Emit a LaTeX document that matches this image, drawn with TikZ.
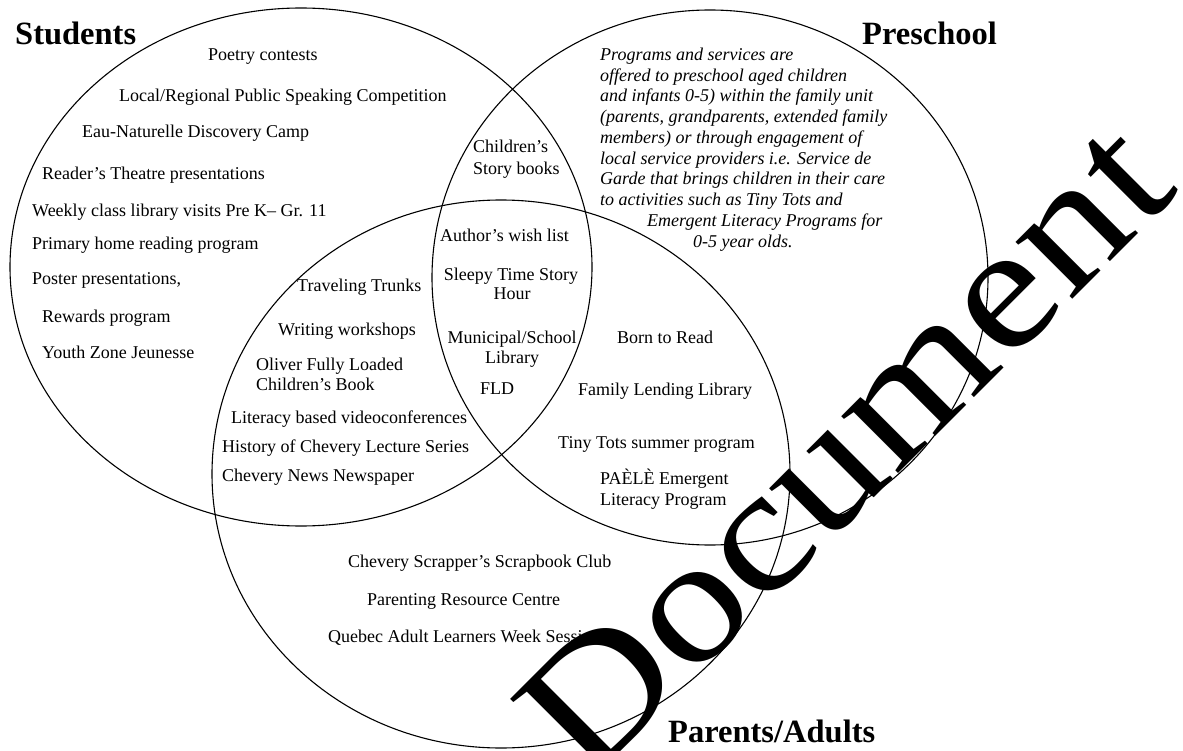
\documentclass[tikz,border=0pt]{standalone}
\usepackage{fontspec}
\setmainfont{Liberation Serif}
\begin{document}
\begin{tikzpicture}[x=1pt,y=-1pt,
  txt/.style={inner sep=0, anchor=base west, font=\fontsize{18}{20.8}\selectfont},
  ctxt/.style={inner sep=0, anchor=base, font=\fontsize{18}{20.8}\selectfont},
  itxt/.style={inner sep=0, anchor=base west, font=\fontsize{18}{20.8}\selectfont\itshape},
  ttl/.style={inner sep=0, anchor=base west, font=\fontsize{32.5}{36}\selectfont\bfseries},
  ring/.style={draw=black, line width=1.1pt},
  wmark/.style={inner sep=0, anchor=base, rotate=45, xscale=1.151, font=\fontsize{175}{175}\selectfont}]
\useasboundingbox (0,0) rectangle (1183,751);
% circles
\draw[ring] (301,267) ellipse [x radius=291, y radius=259];
\draw[ring] (710,277.5) ellipse [x radius=278, y radius=267.5];
\draw[ring] (501,474) ellipse [x radius=289, y radius=274];
% titles
\node[ttl] (tS) at (15,45) {Students};
\node[ttl] (tP) at (862,45) {Preschool};
\node[ttl] (tA) at (668,742) {Parents/Adults};
% students only
\node[txt] (s1) at (208,61) {Poetry contests};
\node[txt] (s2) at (119,102) {Local/Regional Public Speaking Competition};
\node[txt] (s3) at (82,138) {Eau-Naturelle Discovery Camp};
\node[txt] (s4) at (42,180) {Reader’s Theatre presentations};
\node[txt] (s5) at (32,217) {Weekly class library visits Pre K– Gr. 11};
\node[txt] (s6) at (32,250) {Primary home reading program};
\node[txt] (s7) at (32,285) {Poster presentations,};
\node[txt] (s8) at (42,322) {Rewards program};
\node[txt] (s9) at (42,358) {Youth Zone Jeunesse};
% students and parents
\node[txt] (sp1) at (297,292) {Traveling Trunks};
\node[txt] (sp2) at (278,335) {Writing workshops};
\node[txt] (sp3a) at (256,370) {Oliver Fully Loaded};
\node[txt] (sp3b) at (256,390) {Children’s Book};
\node[txt] (sp4) at (231,423) {Literacy based videoconferences};
\node[txt] (sp5) at (222,452) {History of Chevery Lecture Series};
\node[txt] (sp6) at (222,481) {Chevery News Newspaper};
% students and preschool
\node[txt] (ss1a) at (473,153) {Children’s};
\node[txt] (ss1b) at (473,175) {Story books};
% all three
\node[txt] (t1) at (440,242) {Author’s wish list};
\node[ctxt] (t2a) at (511,280) {Sleepy Time Story};
\node[ctxt] (t2b) at (512,299) {Hour};
\node[ctxt] (t3a) at (512,343) {Municipal/School};
\node[ctxt] (t3b) at (512,363) {Library};
\node[ctxt] (t4) at (497,394) {FLD};
% preschool and parents
\node[txt] (pp1) at (617,343) {Born to Read};
\node[txt] (pp2) at (578,395) {Family Lending Library};
\node[txt] (pp3) at (558,448) {Tiny Tots summer program};
\node[txt] (pp4a) at (600,484) {PAÈLÈ Emergent};
\node[txt] (pp4b) at (600,505) {Literacy Program};
% parents only
\node[txt] (p1) at (348,567) {Chevery Scrapper’s Scrapbook Club};
\node[txt] (p2) at (367,605) {Parenting Resource Centre};
\node[txt] (p3) at (328,642) {Quebec Adult Learners Week Sessions};
% preschool paragraph
\node[itxt] (q1) at (600,61) {Programs and services are};
\node[itxt] (q2) at (600,82) {offered to preschool aged children};
\node[itxt] (q3) at (600,102) {and infants 0-5) within the family unit};
\node[itxt] (q4) at (600,123) {(parents, grandparents, extended family};
\node[itxt] (q5) at (600,144) {members) or through engagement of};
\node[itxt] (q6) at (600,165) {local service providers i.e. Service de};
\node[itxt] (q7) at (600,185) {Garde that brings children in their care};
\node[itxt] (q8) at (600,206) {to activities such as Tiny Tots and};
\node[itxt] (q9) at (647,227) {Emergent Literacy Programs for};
\node[itxt] (q10) at (693,248) {0-5 year olds.};
% watermark
\node[wmark] (wm) at (884,488) {Document};
\end{tikzpicture}
\end{document}
